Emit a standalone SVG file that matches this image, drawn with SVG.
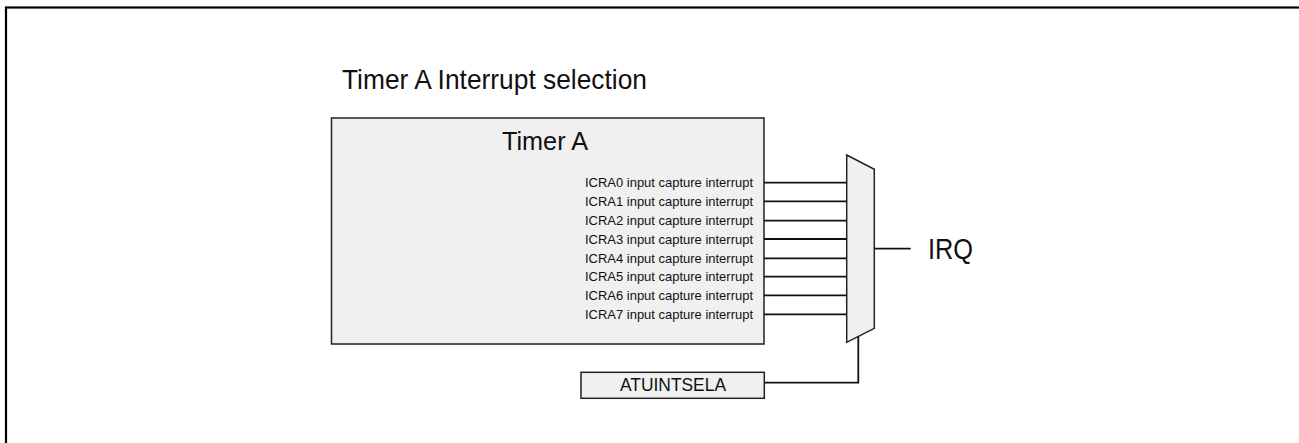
<svg xmlns="http://www.w3.org/2000/svg" width="1299" height="443" viewBox="0 0 1299 443">
<style>
.t{font-family:"Liberation Sans",Arial,sans-serif;fill:#111}
.sm{font-size:13.6px;text-anchor:end}
.box{fill:#f0f0f0;stroke:#222;stroke-width:1.5}
.w{stroke:#111;stroke-width:1.8;fill:none}
</style>
<rect x="6" y="7.5" width="1310" height="450" fill="#fff" stroke="#000" stroke-width="2.2"/>
<text class="t" x="342" y="89" font-size="28" textLength="305" lengthAdjust="spacingAndGlyphs">Timer A Interrupt selection</text>
<g id="timerA">
<rect class="box" x="331.5" y="118" width="432.5" height="226"/>
<text class="t" x="502" y="150" font-size="26" textLength="86" lengthAdjust="spacingAndGlyphs">Timer A</text>
<text class="t sm" x="753" y="187.3" textLength="168" lengthAdjust="spacingAndGlyphs">ICRA0 input capture interrupt</text>
<text class="t sm" x="753" y="206" textLength="168" lengthAdjust="spacingAndGlyphs">ICRA1 input capture interrupt</text>
<text class="t sm" x="753" y="225.2" textLength="168" lengthAdjust="spacingAndGlyphs">ICRA2 input capture interrupt</text>
<text class="t sm" x="753" y="243.6" textLength="168" lengthAdjust="spacingAndGlyphs">ICRA3 input capture interrupt</text>
<text class="t sm" x="753" y="262.8" textLength="168" lengthAdjust="spacingAndGlyphs">ICRA4 input capture interrupt</text>
<text class="t sm" x="753" y="281.2" textLength="168" lengthAdjust="spacingAndGlyphs">ICRA5 input capture interrupt</text>
<text class="t sm" x="753" y="299.8" textLength="168" lengthAdjust="spacingAndGlyphs">ICRA6 input capture interrupt</text>
<text class="t sm" x="753" y="318.8" textLength="168" lengthAdjust="spacingAndGlyphs">ICRA7 input capture interrupt</text>
</g>
<g id="mux">
<polygon class="box" points="846.7,155 874.3,169.3 874.3,328.3 846.7,342.3"/>
</g>
<g id="irq">
<text class="t" x="928" y="259" font-size="30" textLength="45" lengthAdjust="spacingAndGlyphs">IRQ</text>
</g>
<g id="atuintsela">
<rect class="box" x="581" y="372.3" width="183.3" height="26"/>
<text class="t" x="620" y="391" font-size="19" textLength="106" lengthAdjust="spacingAndGlyphs">ATUINTSELA</text>
</g>
<g id="connectors">
<path class="w" d="M764 182.7H846.7M764 201.3H846.7M764 220.7H846.7M764 239H846.7M764 258.3H846.7M764 276.7H846.7M764 295.3H846.7M764 314.3H846.7"/>
<path class="w" d="M874.3 248.7H910.7"/>
<path class="w" d="M764.3 382.7H858.3V336.6"/>
</g>
</svg>
